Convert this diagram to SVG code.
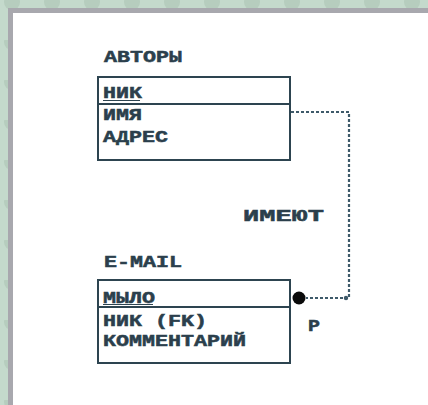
<svg xmlns="http://www.w3.org/2000/svg" width="428" height="405" viewBox="0 0 428 405">
<defs>
<pattern id="bg" width="40" height="40" patternUnits="userSpaceOnUse">
<rect width="40" height="40" fill="#c4dacc"/>
<circle cx="12" cy="2" r="8" fill="#b6cdbe"/>
<circle cx="32" cy="24" r="6" fill="#bad0c2"/>
</pattern>
<style>
.t{font-family:"Liberation Mono","DejaVu Sans Mono",monospace;font-weight:bold;font-size:16px;fill:#2b3f4c;stroke:#2b3f4c;stroke-width:0.5}
.lbl{font-size:17px}
.box{fill:none;stroke:#2d4450;stroke-width:2}
.sep{stroke:#2d4450;stroke-width:2}
.ul{stroke:#2d4450;stroke-width:1.2}
.dash{fill:none;stroke:#3e5a6a;stroke-width:2.2;stroke-dasharray:3 2}
</style>
</defs>
<rect width="428" height="405" fill="url(#bg)"/>
<rect x="8" y="8" width="420" height="397" fill="#a8a8ae"/>
<rect x="13" y="13" width="415" height="392" fill="#ffffff"/>

<g id="node-avtory">
<text class="t" x="104" y="62" textLength="78" lengthAdjust="spacingAndGlyphs">АВТОРЫ</text>
<rect class="box" x="98" y="77" width="192" height="83"/>
<line class="sep" x1="98" y1="104" x2="290" y2="104"/>
<text class="t" x="103" y="98" textLength="39" lengthAdjust="spacingAndGlyphs">НИК</text>
<line class="ul" x1="103" y1="100.5" x2="140" y2="100.5"/>
<text class="t" x="103" y="120" textLength="39" lengthAdjust="spacingAndGlyphs">ИМЯ</text>
<text class="t" x="103" y="142" textLength="65" lengthAdjust="spacingAndGlyphs">АДРЕС</text>
</g>

<g id="node-email">
<text class="t" x="104" y="267" textLength="78" lengthAdjust="spacingAndGlyphs">E-MAIL</text>
<rect class="box" x="98" y="280" width="192" height="83"/>
<line class="sep" x1="98" y1="307" x2="290" y2="307"/>
<text class="t" x="103" y="303" textLength="52" lengthAdjust="spacingAndGlyphs">МЫЛО</text>
<line class="ul" x1="103" y1="304.5" x2="153" y2="304.5"/>
<text class="t" x="103" y="326" textLength="104" lengthAdjust="spacingAndGlyphs">НИК (FK)</text>
<text class="t" x="103" y="346" textLength="143" lengthAdjust="spacingAndGlyphs">КОММЕНТАРИЙ</text>
</g>

<g id="connectors">
<path class="dash" d="M291 112 H349 V298 H306"/>
<circle cx="346" cy="298" r="2.2" fill="#3e5a6a"/>
<circle cx="299" cy="298" r="6.5" fill="#0a0a0a"/>
<text class="t lbl" x="243" y="221" textLength="81" lengthAdjust="spacingAndGlyphs">ИМЕЮТ</text>
<text class="t" x="308" y="331" textLength="12" lengthAdjust="spacingAndGlyphs">P</text>
</g>
</svg>
